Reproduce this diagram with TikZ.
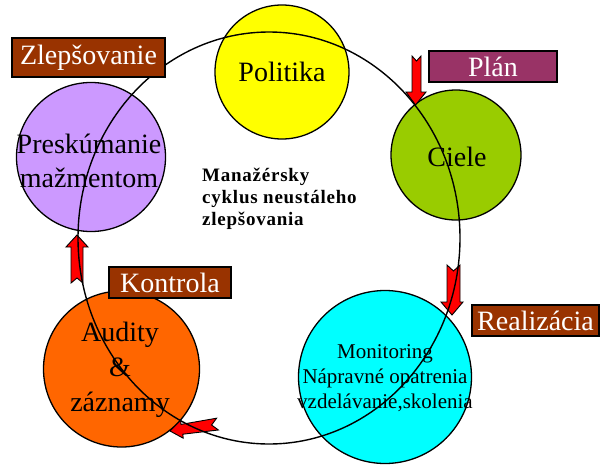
\documentclass[tikz,border=0pt]{standalone}
\usepackage{fontspec}
\setmainfont{Liberation Serif}
\definecolor{cyel}{HTML}{FFFF00}
\definecolor{cgrn}{HTML}{99CC00}
\definecolor{cpur}{HTML}{CC99FF}
\definecolor{corg}{HTML}{FF6600}
\definecolor{ccya}{HTML}{00FFFF}
\definecolor{cbrn}{HTML}{993300}
\definecolor{cplm}{HTML}{993366}
\definecolor{cred}{HTML}{FF0000}
\tikzset{
  disc/.style={circle, draw=black, line width=1.3pt, inner sep=0pt},
  big/.style={font=\fontsize{28}{34}\selectfont, align=center, inner sep=0pt},
  phase/.style={draw=black, line width=1.3pt, inner sep=0pt, text=white,
    font=\fontsize{28}{30}\selectfont},
  redarrow/.style={fill=cred, draw=black, line width=0.9pt, line join=miter},
  cycle line/.style={draw=black, line width=1.4pt}
}
\begin{document}
\begin{tikzpicture}[x=1pt, y=-1pt]
\useasboundingbox (0,0) rectangle (600,466);
% filled circles
\node[disc, fill=cyel, minimum size=134pt] (pol) at (282,72) {};
\node[disc, fill=cgrn, minimum size=130pt] (cie) at (456,155) {};
\node[disc, fill=cpur, minimum size=149pt] (pre) at (91,157) {};
\node[disc, fill=corg, minimum size=156pt] (aud) at (121.5,369) {};
\node[disc, fill=ccya, minimum size=173pt] (mon) at (385,377) {};
% red notched arrows
\path[redarrow] (412,56) -- (416.5,61) -- (421,56) -- (421,92) -- (426,92)
  -- (415.5,105) -- (406,92) -- (412,92) -- cycle;
\path[redarrow] (447,265) -- (453.5,271) -- (460,265) -- (460,302) -- (463,302)
  -- (452,315) -- (441,302) -- (447,302) -- cycle;
\path[redarrow] (71,283) -- (77,278) -- (83,283) -- (83,247) -- (88,247)
  -- (77,235) -- (66,247) -- (71,247) -- cycle;
\path[redarrow] (170,431) -- (180.6,420.4) -- (181.0,424.4) -- (216.6,418.2)
  -- (211.6,425.0) -- (218.4,430.0) -- (182.8,434.2) -- (183.2,438.2) -- cycle;
% cycle
\coordinate (ctr) at (269,238);
\draw[cycle line] (ctr) ellipse [x radius=191, y radius=206];
% circle texts
\node[big] (tpol) at (pol) {Politika};
\node[big] (tcie) at (457,157) {Ciele};
\node[big] (tpre) at (89,161) {Preskúmanie\\mažmentom};
\node[big, font=\fontsize{28}{35}\selectfont] (taud) at (120,370) {Audity\\\&\\záznamy};
\node[align=center, inner sep=0pt, font=\fontsize{21}{25}\selectfont] (tmon) at (385,378)
  {Monitoring\\Nápravné opatrenia\\vzdelávanie,skolenia};
\node[align=left, anchor=north west, inner sep=0pt,
  font=\fontsize{19}{22}\selectfont\bfseries\addfontfeatures{LetterSpace=4}] (title) at (202,168)
  {Manažérsky\\cyklus neustáleho\\zlepšovania};
% phase labels
\node[phase, fill=cbrn, minimum width=153pt, minimum height=39pt] (zle) at (88.5,57.5) {Zlepšovanie};
\node[phase, fill=cplm, minimum width=128pt, minimum height=31pt] (pla) at (493,66.5) {Plán};
\node[phase, fill=cbrn, minimum width=122pt, minimum height=31pt] (kon) at (170,282.5) {Kontrola};
\node[phase, fill=cbrn, minimum width=127pt, minimum height=31pt] (rea) at (535.5,320.5) {Realizácia};
\end{tikzpicture}
\end{document}
